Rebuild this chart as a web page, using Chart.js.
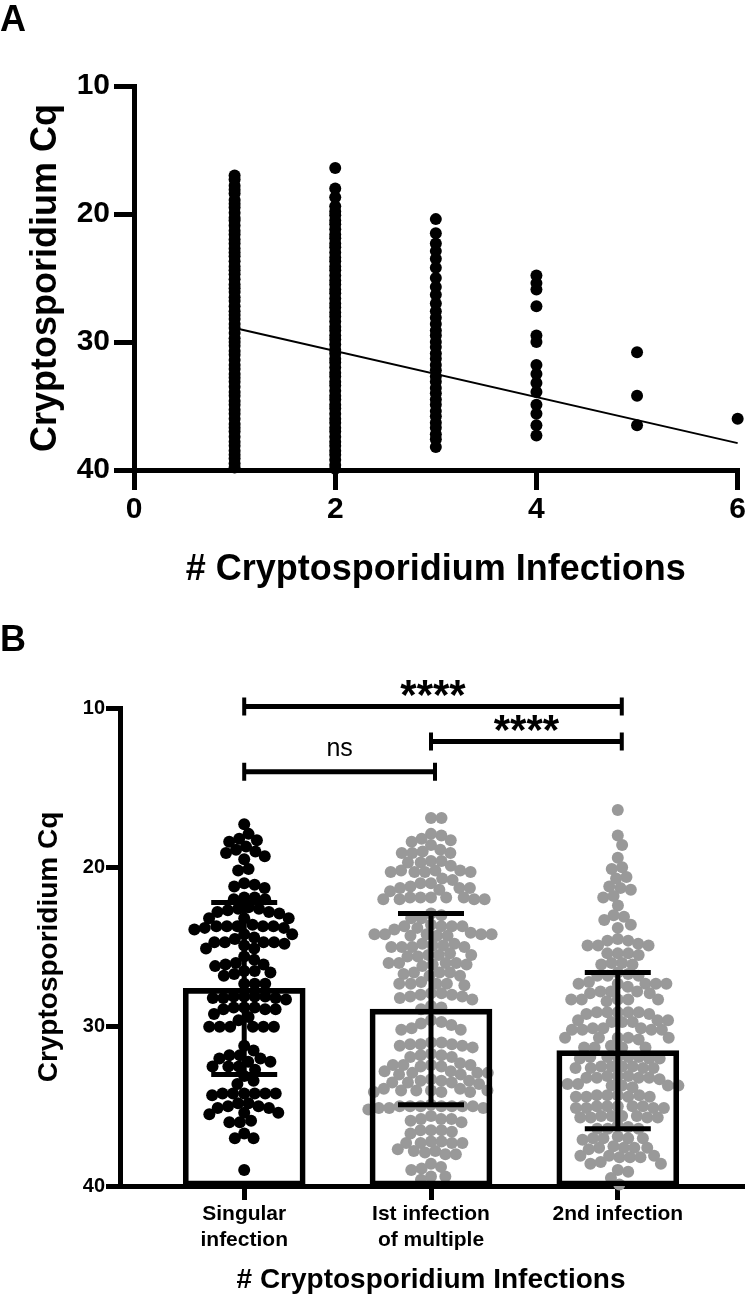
<!DOCTYPE html>
<html>
<head>
<meta charset="utf-8">
<title>Cryptosporidium Cq by number of infections</title>
<script src="https://cdn.jsdelivr.net/npm/chart.js@4.4.1/dist/chart.umd.min.js"></script>
<style>
  html, body { margin: 0; padding: 0; background: #fff; }
  body { width: 748px; height: 1298px; position: relative; overflow: hidden; font-family: "Liberation Sans", Arial, sans-serif; }
  canvas { position: absolute; left: 0; }
  #panelA { top: 0; }
  #panelB { top: 600px; }
  .letter { position: absolute; left: 0; font-size: 36px; font-weight: bold; line-height: 36px; }
</style>
</head>
<body>
<canvas id="panelA" width="748" height="600"></canvas>
<canvas id="panelB" width="748" height="698"></canvas>
<div class="letter" style="top:1px">A</div>
<div class="letter" style="top:621px">B</div>
<script>
// ---- panel A: Cq of every infection, by number of infections per child ----
const infectionCounts = [1, 2, 3, 4, 5, 6];
const cqOne = [17.0, 17.3, 17.8, 18.1, 18.4, 18.9, 19.2, 19.5, 19.9, 20.3, 20.5, 20.9, 21.3, 21.6,
  22.0, 22.3, 22.7, 23.0, 23.3, 23.7, 24.1, 24.4, 24.7, 25.1, 25.5, 25.8, 26.1, 26.5, 26.8, 27.2,
  27.6, 27.9, 28.2, 28.6, 28.9, 29.3, 29.7, 30.0, 30.3, 30.7, 31.0, 31.4, 31.8, 32.1, 32.5, 32.8,
  33.1, 33.5, 33.9, 34.2, 34.6, 34.9, 35.3, 35.6, 36.0, 36.4, 36.7, 37.0, 37.4, 37.8, 38.1, 38.5,
  38.8, 39.1, 39.5, 39.8];
const cqTwo = [16.4, 18.0, 18.7, 19.4, 19.8, 20.1, 20.5, 20.8, 21.2, 21.6, 21.9, 22.3, 22.6, 23.0,
  23.4, 23.7, 24.1, 24.4, 24.8, 25.2, 25.5, 25.9, 26.2, 26.6, 27.0, 27.3, 27.7, 28.0, 28.4, 28.8,
  29.1, 29.5, 29.8, 30.2, 30.6, 30.9, 31.3, 31.6, 32.0, 32.4, 32.7, 33.1, 33.4, 33.8, 34.2, 34.5,
  34.9, 35.2, 35.6, 36.0, 36.3, 36.7, 37.0, 37.4, 37.8, 38.1, 38.5, 38.8, 39.2, 39.6, 39.9];
const cqThree = [20.4, 21.5, 22.3, 22.9, 23.5, 24.2, 25.0, 25.7, 26.3, 27.0, 27.6, 28.1, 28.6, 29.1,
  29.5, 30.0, 30.4, 30.9, 31.3, 31.8, 32.2, 32.7, 33.1, 33.6, 34.0, 34.5, 34.9, 35.4, 35.8, 36.3,
  36.7, 37.2, 37.6, 38.2];
const cqFour = [24.8, 25.4, 25.9, 27.2, 29.5, 30.0, 31.8, 32.5, 33.2, 33.9, 34.9, 35.6, 36.5, 37.3];
const cqFive = [30.8, 34.2, 36.5];
const cqSix = [36.0];
const fitX = [1, 6];
const fitY = [28.9, 37.9];
const xTicksA = [0, 2, 4, 6];
const cqTicks = [10, 20, 30, 40];

// ---- panel B: singular vs first / second of multiple infections ----
const groupLabels = [["Singular", "infection"], ["Ist infection", "of multiple"], ["2nd infection"]];
const cqSingular = [17.3,
  17.9, 18.2, 18.3, 18.4, 18.7, 18.9, 19.0, 19.1, 19.3, 19.5, 20.1, 20.2,
  21.0, 21.1, 21.2, 21.3, 21.9, 22.0, 22.0, 21.9, 22.5, 22.6, 22.6, 22.8,
  22.8, 22.7, 22.9, 23.2, 23.2, 23.2, 23.7, 23.8, 23.7, 23.9, 23.6, 23.8, 23.7, 23.7, 23.7,
  24.2, 24.2, 24.4, 24.5, 24.8, 24.7, 24.9, 24.7, 24.7, 24.7, 25.1, 25.1,
  26.0, 25.8, 26.1, 26.2, 26.1, 25.6, 26.8, 26.5, 26.6, 26.7, 26.5, 27.3, 27.3, 27.3,
  28.1, 28.1, 28.2, 28.1, 28.2, 28.3, 28.1, 28.2, 28.8, 28.8, 28.9, 28.8, 28.9, 28.9,
  29.4, 29.2, 29.6, 30.0, 30.0, 30.0, 30.0, 30.0, 30.0, 31.2, 31.5,
  32.2, 31.8, 31.8, 32.0, 32.0, 32.2, 32.5, 32.5, 32.5, 32.7, 33.6, 33.1, 33.4,
  34.2, 34.2, 34.2, 34.2, 34.2, 34.3, 34.2, 35.1, 34.8, 35.0, 34.8, 35.1, 35.0,
  35.5, 36.0, 35.4, 35.4, 35.9, 36.0, 37.0, 37.0, 36.7, 39.0];
const cqFirst = [16.9, 16.9, 17.9, 18.0, 18.2, 18.3, 18.4, 18.6,
  19.1, 19.0, 19.1, 18.9, 19.1, 19.6, 19.7, 19.6, 19.7, 19.9,
  20.2, 20.3, 20.3, 20.2, 20.3, 20.2, 20.3, 20.8, 20.7, 21.0,
  21.3, 21.2, 21.3, 21.3, 21.4, 21.5, 21.0, 21.9, 22.0, 22.0, 21.9, 22.0, 22.0, 21.9, 21.9, 21.9,
  23.0, 22.9, 23.2, 23.2, 23.7, 23.7, 23.6, 23.7, 23.8, 23.7, 23.9,
  24.3, 24.2, 24.1, 24.2, 24.2, 24.2, 24.2, 24.3, 24.3,
  24.9, 25.0, 24.9, 25.0, 24.8, 25.0, 25.0, 24.8, 25.5, 25.4, 25.5, 25.5, 25.6, 25.6,
  26.0, 26.1, 26.0, 26.1, 26.2, 26.0, 26.0, 26.6, 26.8, 26.6, 26.7, 26.8, 26.6,
  27.3, 27.3, 27.2, 27.3, 27.3, 27.4, 27.9, 27.9, 28.0, 28.0, 28.2,
  28.1, 28.1, 28.3, 28.8, 28.7, 28.9, 29.6, 29.7, 29.8, 29.9, 30.2, 30.2, 30.1,
  31.2, 31.1, 31.0, 31.0, 31.1, 31.3, 31.1, 31.2, 31.9, 31.8, 31.7, 31.8, 31.9,
  32.4, 32.5, 32.4, 32.4, 32.4, 32.5, 32.3, 33.0, 32.9, 32.9, 32.8, 32.9, 32.8, 33.0,
  33.4, 33.5, 33.5, 33.3, 33.6, 33.4, 33.4, 33.5,
  34.1, 34.0, 33.9, 34.0, 34.1, 33.9, 34.0, 34.0, 34.1,
  35.0, 35.0, 34.9, 35.0, 35.1, 35.0, 35.1, 35.0, 35.1, 35.2, 35.0, 35.0,
  35.8, 36.0, 35.8, 35.9, 35.8, 35.6, 36.5, 36.5, 36.6, 36.5, 36.7,
  37.2, 37.3, 37.3, 37.2, 37.3, 37.3, 37.8, 37.9, 38.0, 37.8, 38.0, 37.7,
  38.6, 38.8, 38.9, 39.0, 39.4, 39.6, 39.4];
const cqSecond = [16.4, 18.0, 18.6, 19.4, 20.0, 20.1, 20.6, 20.7, 21.3, 21.2, 21.4, 21.9, 21.8,
  22.4, 23.1, 23.0, 23.3, 23.8, 23.6, 24.5, 24.6, 24.6, 24.9, 24.9, 24.8, 24.9,
  25.4, 25.4, 25.5, 25.4, 26.0, 26.1, 26.1, 26.0, 26.7, 26.8, 26.8, 26.8, 26.6,
  27.3, 27.2, 27.3, 27.3, 27.3, 27.3, 27.5, 27.8, 27.8, 27.9, 27.8, 27.9,
  28.3, 28.3, 28.3, 28.3, 28.4, 28.3, 29.1, 29.1, 29.2, 29.1, 29.2, 29.1, 29.1,
  29.7, 29.6, 29.7, 29.6, 29.6, 29.7, 30.1, 30.2, 30.1, 30.2, 30.1, 30.2, 30.2,
  30.7, 30.8, 30.7, 30.7, 30.7, 30.7, 31.3, 31.3, 31.2, 31.3, 31.3,
  31.9, 32.0, 31.9, 31.9, 32.0, 31.9, 32.0, 31.9,
  32.5, 32.6, 32.5, 32.6, 32.5, 32.6, 32.5, 32.6,
  33.1, 33.2, 33.2, 33.1, 33.3, 33.2, 33.2, 33.1,
  33.7, 33.7, 33.6, 33.8, 33.7, 33.6, 33.7,
  34.3, 34.4, 34.3, 34.4, 34.3, 34.4, 34.3, 34.4,
  35.0, 35.1, 35.0, 35.1, 35.0, 35.1, 35.0, 35.0, 35.1,
  35.6, 35.7, 35.6, 35.7, 35.6, 35.7, 35.6, 35.7,
  36.2, 36.4, 36.4, 36.3, 36.4, 37.0, 37.1, 37.0, 36.9, 37.0, 37.0,
  37.6, 37.6, 37.5, 37.6, 37.6, 37.7, 38.2, 38.1, 38.1, 38.1, 38.2, 38.2,
  38.6, 38.5, 38.6, 39.1, 39.0, 39.5, 39.9];
const groupMeans = [27.6, 28.9, 31.5];
const groupSDs = [5.4, 6.0, 4.9];
const compFrom = [1, 2, 1];
const compTo = [3, 3, 2];
const compLabels = ["****", "****", "ns"];

// ---- shared styling ----
const FONT = "'Liberation Sans', Arial, sans-serif";
Chart.defaults.font.family = FONT;
Chart.defaults.color = "#000";
const GREY = "#999999";

function axisStyle(tickLength) {
  return {
    offset: false,
    border: { display: true, width: 5, color: "#000" },
    grid: { display: true, offset: false, drawOnChartArea: false, drawTicks: true, tickLength, tickWidth: 5, tickColor: "#000", color: "#000", lineWidth: 5 },
  };
}

// ---- panel A ----
const pointsA = [];
[cqOne, cqTwo, cqThree, cqFour, cqFive, cqSix].forEach((col, i) => {
  col.forEach(v => pointsA.push({ x: infectionCounts[i], y: v }));
});

new Chart(document.getElementById("panelA"), {
  type: "scatter",
  data: {
    datasets: [
      { data: pointsA, pointRadius: 6, pointBackgroundColor: "#000", pointBorderColor: "#000", pointBorderWidth: 0, clip: false, order: 2 },
      { data: fitX.map((x, i) => ({ x, y: fitY[i] })), showLine: true, borderColor: "#000", borderWidth: 2, pointRadius: 0, clip: false, order: 1 },
    ],
  },
  options: {
    responsive: false, animation: false, events: [],
    layout: { padding: { top: 86, right: 8, left: 0, bottom: 0 } },
    plugins: { legend: { display: false }, tooltip: { enabled: false } },
    scales: {
      x: {
        type: "linear", min: 0, max: 6,
        afterBuildTicks: s => { s.ticks = xTicksA.map(v => ({ value: v })); },
        afterFit: s => { s.height = 130; },
        ...axisStyle(20),
        ticks: { font: { size: 30, weight: "bold" }, color: "#000", padding: 2, maxRotation: 0 },
        title: { display: true, text: "# Cryptosporidium Infections", font: { size: 36, weight: "bold" }, color: "#000", padding: { top: 0, bottom: 8 } },
      },
      y: {
        type: "linear", min: 10, max: 40, reverse: true,
        afterBuildTicks: s => { s.ticks = cqTicks.map(v => ({ value: v })); },
        afterFit: s => { s.width = 134; },
        ...axisStyle(20),
        ticks: { font: { size: 30, weight: "bold" }, color: "#000", padding: 4 },
        title: { display: true, text: "Cryptosporidium Cq", font: { size: 36, weight: "bold" }, color: "#000", padding: { top: 24, bottom: 0 } },
      },
    },
  },
});

// ---- panel B ----
const groupValues = [cqSingular, cqFirst, cqSecond];
const groupColors = ["#000", GREY, GREY];

const errorBarsAndBrackets = {
  id: "errorBarsAndBrackets",
  afterDatasetsDraw(chart) {
    const { ctx, scales: { x, y } } = chart;
    ctx.save();
    ctx.strokeStyle = "#000";
    ctx.fillStyle = "#000";
    ctx.lineWidth = 5;
    // mean +/- SD
    groupMeans.forEach((m, i) => {
      const cx = x.getPixelForValue(i + 1);
      const top = y.getPixelForValue(m - groupSDs[i]);
      const bot = y.getPixelForValue(m + groupSDs[i]);
      ctx.beginPath();
      ctx.moveTo(cx, top); ctx.lineTo(cx, bot);
      ctx.moveTo(cx - 33, top); ctx.lineTo(cx + 33, top);
      ctx.moveTo(cx - 33, bot); ctx.lineTo(cx + 33, bot);
      ctx.stroke();
    });
    // significance brackets
    const levels = [9.9, 12.1, 14.0];
    compFrom.forEach((from, i) => {
      const x1 = x.getPixelForValue(from);
      const x2 = x.getPixelForValue(compTo[i]) + 4;
      const yy = y.getPixelForValue(levels[i]);
      ctx.lineWidth = 5;
      ctx.beginPath();
      ctx.moveTo(x1, yy); ctx.lineTo(x2, yy);
      ctx.stroke();
      ctx.lineWidth = 4;
      ctx.beginPath();
      ctx.moveTo(x1, yy - 9); ctx.lineTo(x1, yy + 9);
      ctx.moveTo(x2, yy - 9); ctx.lineTo(x2, yy + 9);
      ctx.stroke();
      const stars = compLabels[i] !== "ns";
      const size = stars ? 42 : 25;
      ctx.font = `${stars ? "bold " : ""}${size}px ${FONT}`;
      ctx.textAlign = "center";
      ctx.textBaseline = "alphabetic";
      const centerY = yy - (stars ? 21 : 22);
      const baseY = stars ? centerY + 0.56 * size : centerY + 0.26 * size;
      ctx.fillText(compLabels[i], (x1 + x2) / 2, baseY);
    });
    ctx.restore();
  },
};

const chartB = new Chart(document.getElementById("panelB"), {
  type: "bar",
  data: {
    datasets: [
      {
        type: "bar",
        data: groupMeans.map((m, i) => ({ x: i + 1, y: [40, m] })),
        backgroundColor: "rgba(0,0,0,0)", borderColor: "#000", borderWidth: 5, borderSkipped: false,
        barThickness: 122, order: 1,
      },
      ...groupValues.map((vals, g) => ({
        type: "scatter",
        data: vals.map(v => ({ x: g + 1, y: v })),
        pointRadius: 6, pointBackgroundColor: groupColors[g], pointBorderColor: groupColors[g], pointBorderWidth: 0,
        clip: false, order: 2,
      })),
    ],
  },
  options: {
    responsive: false, animation: false, events: [],
    layout: { padding: { top: 108, right: 0, left: 0, bottom: 0 } },
    plugins: { legend: { display: false }, tooltip: { enabled: false } },
    scales: {
      x: {
        type: "linear", min: 0.335, max: 3.665,
        afterBuildTicks: s => { s.ticks = groupLabels.map((_, i) => ({ value: i + 1 })); },
        afterFit: s => { s.height = 112; },
        ...axisStyle(14),
        ticks: { font: { size: 21, weight: "bold", lineHeight: 1.24 }, color: "#000", padding: 1, maxRotation: 0, autoSkip: false,
          callback: v => groupLabels[v - 1] },
        title: { display: true, text: "# Cryptosporidium Infections", font: { size: 28, weight: "bold" }, color: "#000", padding: { top: 0, bottom: 1 } },
      },
      y: {
        type: "linear", min: 10, max: 40, reverse: true,
        afterBuildTicks: s => { s.ticks = cqTicks.map(v => ({ value: v })); },
        afterFit: s => { s.width = 120; },
        ...axisStyle(14),
        ticks: { font: { size: 20, weight: "bold" }, color: "#000", padding: 1 },
        title: { display: true, text: "Cryptosporidium Cq", font: { size: 28, weight: "bold" }, color: "#000", padding: { top: 32, bottom: 0 } },
      },
    },
  },
  plugins: [errorBarsAndBrackets],
});

// spread the dots of each group sideways (beeswarm layout in pixel space)
function swarmOffsets(values, yScale, pxPerUnit, dist) {
  const placed = [];
  const offsets = new Array(values.length).fill(0);
  const idx = values.map((_, i) => i).sort((a, b) => values[a] - values[b]);
  for (const i of idx) {
    const py = yScale.getPixelForValue(values[i]);
    const near = placed.filter(p => Math.abs(p.y - py) < dist);
    const cands = [0];
    near.forEach(p => {
      const dx = Math.sqrt(dist * dist - (p.y - py) ** 2);
      cands.push(p.x + dx, p.x - dx);
    });
    cands.sort((a, b) => Math.abs(a) - Math.abs(b));
    let pick = 0;
    for (const c of cands) {
      if (near.every(p => (p.x - c) ** 2 + (p.y - py) ** 2 >= dist * dist - 0.5)) { pick = c; break; }
    }
    placed.push({ x: pick, y: py });
    offsets[i] = pick / pxPerUnit;
  }
  return offsets;
}

const xs = chartB.scales.x, ys = chartB.scales.y;
const pxPerUnit = xs.getPixelForValue(2) - xs.getPixelForValue(1);
groupValues.forEach((vals, g) => {
  const off = swarmOffsets(vals, ys, pxPerUnit, 10.5);
  chartB.data.datasets[g + 1].data = vals.map((v, i) => ({ x: g + 1 + off[i], y: v }));
});
chartB.update("none");
</script>
</body>
</html>
